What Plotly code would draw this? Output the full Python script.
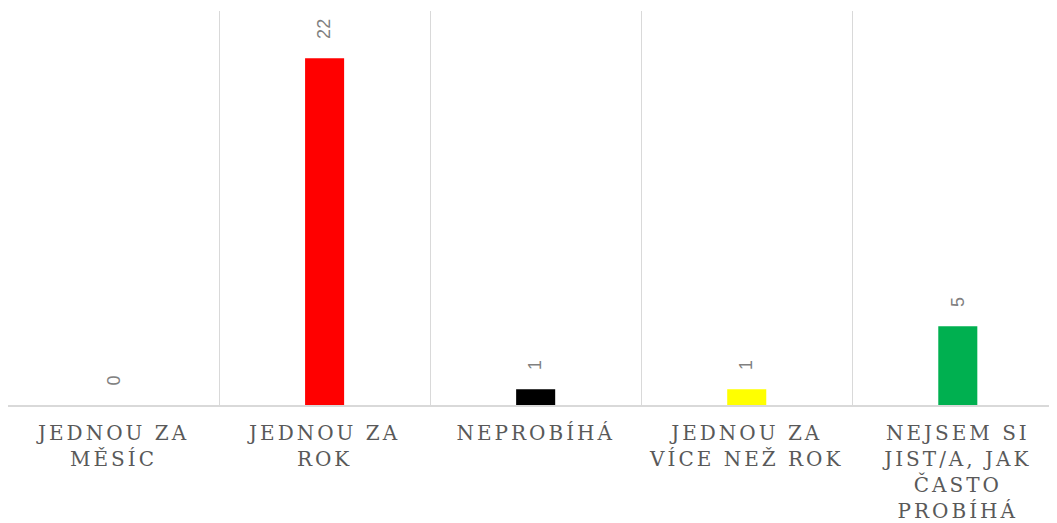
import plotly.graph_objects as go

categories = ["JEDNOU ZA<br>MĚSÍC", "JEDNOU ZA<br>ROK", "NEPROBÍHÁ",
              "JEDNOU ZA<br>VÍCE NEŽ ROK", "NEJSEM SI<br>JIST/A, JAK<br>ČASTO<br>PROBÍHÁ"]
values = [0, 22, 1, 1, 5]
colors = ["#4472C4", "#FF0000", "#000000", "#FFFF00", "#00B050"]

fig = go.Figure()
fig.add_trace(go.Bar(
    x=categories, y=values, marker=dict(color=colors, line=dict(width=0)),
    width=0.185, hoverinfo="x+y",
))

for c, v in zip(categories, values):
    fig.add_annotation(
        x=c, y=v, text=str(v), textangle=-90, showarrow=False,
        yanchor="bottom", yshift=17,
        font=dict(family="Liberation Sans, Arial, sans-serif", size=18, color="#808080"),
    )

fig.update_layout(
    width=1049, height=515,
    margin=dict(l=0, r=0, t=3, b=118),
    paper_bgcolor="white", plot_bgcolor="white",
    showlegend=False,
    xaxis=dict(
        type="category", range=[-0.5, 4.47], tickson="boundaries",
        showgrid=True, gridcolor="#d9d9d9", gridwidth=1.3,
        ticks="", showline=True, linecolor="#d9d9d9", linewidth=2,
        tickfont=dict(family="DejaVu Serif, serif", size=20, color="#595959"),
        ticklabelstandoff=9, fixedrange=True,
    ),
    yaxis=dict(
        range=[0, 25], showgrid=False, zeroline=False, showticklabels=False,
        fixedrange=True,
    ),
)

post = """
var gd = document.getElementById('{plot_id}');
function ls(){ gd.querySelectorAll('.xtick text').forEach(function(t){ t.style.letterSpacing='3px'; }); }
ls(); gd.on('plotly_afterplot', ls);
"""
fig.write_html("out.html", post_script=post, config={"displayModeBar": False})
